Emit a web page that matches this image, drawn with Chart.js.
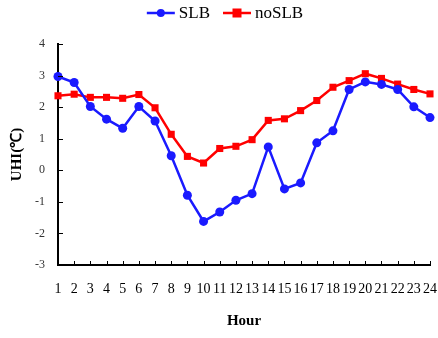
<!DOCTYPE html>
<html>
<head>
<meta charset="utf-8">
<script src="https://cdn.jsdelivr.net/npm/chart.js@4"></script>
<style>
  html, body { margin: 0; padding: 0; background: #fff; }
  #wrap { width: 438px; height: 338px; }
</style>
</head>
<body>
<div id="wrap"><canvas id="uhiChart" width="438" height="338"></canvas></div>
<script>
// Hourly UHI values
const hours = ['1','2','3','4','5','6','7','8','9','10','11','12','13','14','15','16','17','18','19','20','21','22','23','24'];
const slb = [2.97, 2.78, 2.02, 1.62, 1.33, 2.02, 1.56, 0.46, -0.79, -1.62, -1.32, -0.95,
             -0.74, 0.74, -0.59, -0.40, 0.87, 1.25, 2.56, 2.80, 2.72, 2.56, 2.01, 1.67];
const noSlb = [2.36, 2.41, 2.31, 2.31, 2.28, 2.40, 1.98, 1.14, 0.44, 0.23, 0.69, 0.76,
               0.97, 1.58, 1.63, 1.89, 2.21, 2.63, 2.84, 3.06, 2.91, 2.73, 2.56, 2.42];
const yMin = -3, yMax = 4;

const serif = "'Liberation Serif', 'Times New Roman', serif";
const blue = '#1a1aff';
const red = '#ff0000';

// small tick marks pointing into the plot area
const innerTicks = {
    id: 'innerTicks',
    afterDraw(chart) {
        const ctx = chart.ctx;
        const x = chart.scales.x, y = chart.scales.y;
        ctx.save();
        ctx.strokeStyle = '#000';
        ctx.lineWidth = 1;
        ctx.beginPath();
        for (let i = 1; i < x.ticks.length; i++) {
            const px = Math.round(x.getPixelForTick(i)) + 0.5;
            ctx.moveTo(px, y.bottom);
            ctx.lineTo(px, y.bottom - 4);
        }
        for (let i = 1; i < y.ticks.length; i++) {
            const py = Math.round(y.getPixelForTick(i)) + 0.5;
            ctx.moveTo(x.left, py);
            ctx.lineTo(x.left + 5, py);
        }
        ctx.stroke();
        ctx.restore();
    }
};

// legend with line + marker, like the original
const lineLegend = {
    id: 'lineLegend',
    afterDraw(chart) {
        const ctx = chart.ctx;
        ctx.save();
        ctx.font = '17px ' + serif;
        ctx.textBaseline = 'middle';
        const seg = 28, gap = 4, between = 13;
        const items = chart.data.datasets.map(ds => ({ ds, w: ctx.measureText(ds.label).width }));
        let total = 0;
        items.forEach((it, i) => { total += seg + gap + it.w + (i ? between : 0); });
        let x = (chart.width - total) / 2 + 6;
        const y = 13;
        items.forEach(it => {
            const ds = it.ds;
            ctx.strokeStyle = ds.borderColor;
            ctx.lineWidth = 2.5;
            ctx.beginPath();
            ctx.moveTo(x, y);
            ctx.lineTo(x + seg, y);
            ctx.stroke();
            ctx.fillStyle = ds.borderColor;
            const cx = x + seg / 2;
            if (ds.pointStyle === 'rect') {
                ctx.fillRect(cx - 4.5, y - 4.5, 9, 9);
            } else {
                ctx.beginPath();
                ctx.arc(cx, y, 4, 0, Math.PI * 2);
                ctx.fill();
            }
            ctx.fillStyle = '#000';
            ctx.fillText(ds.label, x + seg + gap, y + 1);
            x += seg + gap + it.w + between;
        });
        ctx.restore();
    }
};

const ctx = document.getElementById('uhiChart').getContext('2d');
const uhiChart = new Chart(ctx, {
    type: 'line',
    data: {
        labels: hours,
        datasets: [{
            label: 'SLB',
            data: slb,
            borderColor: blue,
            backgroundColor: blue,
            borderWidth: 2.5,
            pointStyle: 'circle',
            pointRadius: 4.5,
            pointBorderWidth: 0,
            tension: 0,
            clip: false
        }, {
            label: 'noSLB',
            data: noSlb,
            borderColor: red,
            backgroundColor: red,
            borderWidth: 2.5,
            pointStyle: 'rect',
            pointRadius: 5,
            pointBorderWidth: 0,
            tension: 0,
            clip: false
        }]
    },
    options: {
        responsive: false,
        animation: false,
        layout: { padding: { top: 44, right: 8, left: 0, bottom: 0 } },
        plugins: {
            legend: { display: false },
            tooltip: { enabled: false }
        },
        scales: {
            x: {
                offset: false,
                grid: { display: false, drawTicks: false },
                border: { color: '#000', width: 2 },
                ticks: {
                    color: '#000',
                    font: { family: serif, size: 14 },
                    padding: 16,
                    maxRotation: 0,
                    autoSkip: false
                },
                title: {
                    display: true,
                    text: 'Hour',
                    color: '#000',
                    font: { family: serif, size: 15, weight: 'bold' },
                    padding: { top: 0, bottom: 8 }
                },
                afterFit(scale) {
                    scale.height = 73;
                    scale.paddingLeft = 0;
                    scale.paddingRight = 0;
                }
            },
            y: {
                min: yMin,
                max: yMax,
                grid: { display: false, drawTicks: false },
                border: { color: '#000', width: 2 },
                ticks: {
                    stepSize: 1,
                    color: '#333',
                    font: { family: serif, size: 12 },
                    padding: 13
                },
                title: {
                    display: true,
                    text: 'UHI(℃)',
                    color: '#000',
                    font: { family: serif, size: 15, weight: 'bold' },
                    padding: { top: 8, bottom: 0 }
                },
                afterFit(scale) { scale.width = 58; }
            }
        }
    },
    plugins: [innerTicks, lineLegend]
});
</script>
</body>
</html>
